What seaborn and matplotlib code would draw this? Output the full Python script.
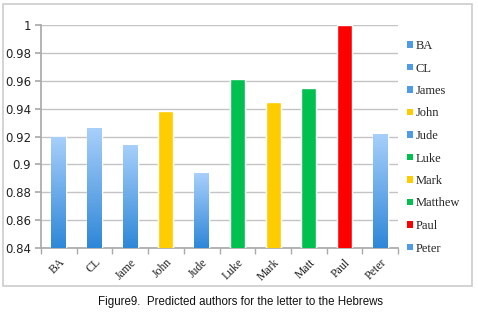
import numpy as np
import pandas as pd
import matplotlib
matplotlib.use("Agg")
import matplotlib.pyplot as plt
import seaborn as sns
from matplotlib.patches import Patch, Rectangle
from matplotlib.colors import LinearSegmentedColormap

# ---- data ----
categories = ["BA", "CL", "Jame", "John", "Jude", "Luke", "Mark", "Matt", "Paul", "Peter"]
values = [0.920, 0.926, 0.914, 0.938, 0.8935, 0.961, 0.945, 0.955, 1.000, 0.922]
groups = ["blue", "blue", "blue", "yellow", "blue", "green", "yellow", "green", "red", "blue"]
legend_labels = ["BA", "CL", "James", "John", "Jude", "Luke", "Mark", "Matthew", "Paul", "Peter"]
yticks = [0.84, 0.86, 0.88, 0.9, 0.92, 0.94, 0.96, 0.98, 1.0]
ytick_labels = ["0.84", "0.86", "0.88", "0.9", "0.92", "0.94", "0.96", "0.98", "1"]
caption = "Figure9.  Predicted authors for the letter to the Hebrews"

solid = {"yellow": "#ffcc00", "green": "#00c050", "red": "#ff0000", "blue": "#6aaaf0"}
legend_sq = {"yellow": "#ffcc00", "green": "#00c050", "red": "#ff0000", "blue": "#4f9be6"}

sns.set_theme(style="white")
plt.rcParams["font.family"] = ["DejaVu Sans"]

fig = plt.figure(figsize=(4.78, 3.12), dpi=100)
ax = fig.add_axes([41/478, 1-248/312, (398-41)/478, (248-25)/312])

df = pd.DataFrame({"cat": categories, "val": values, "grp": groups})
sns.barplot(data=df, x="cat", y="val", hue="cat", palette=[solid[g] for g in groups],
            width=0.42, saturation=1, legend=False, ax=ax, zorder=3)

ax.set_ylim(0.84, 1.0)
ax.set_xlim(-0.5, len(categories)-0.5)

# gradient fill for blue bars
cmap = LinearSegmentedColormap.from_list("g", ["#2e87d8", "#a8d0fb"])
grad = np.linspace(0, 1, 256).reshape(-1, 1)
for patch, g in zip(ax.patches, groups):
    if g == "blue":
        x0, w = patch.get_x(), patch.get_width()
        y1 = patch.get_y() + patch.get_height()
        patch.set_facecolor("none")
        im = ax.imshow(grad, cmap=cmap, origin="lower", aspect="auto",
                       extent=[x0, x0 + w, 0.84, y1], zorder=3)
        im.set_clip_path(patch)
ax.set_xlim(-0.5, len(categories)-0.5)
ax.set_ylim(0.84, 1.0)

ax.set_yticks(yticks)
ax.set_yticklabels(ytick_labels, fontsize=8.5, color="#222222")
ax.grid(axis="y", color="#c4c4c4", linewidth=1.0, zorder=0)
ax.set_axisbelow(True)
for s in ["top", "right"]:
    ax.spines[s].set_visible(False)
ax.spines["left"].set_color("#aaaaaa")
ax.spines["bottom"].set_color("#aaaaaa")
ax.set_xlabel("")
ax.set_ylabel("")

ax.set_xticks(range(len(categories)))
ax.set_xticklabels(categories, rotation=45, ha="right", rotation_mode="anchor",
                   fontsize=8.5, family="Liberation Serif", color="#222222")
ax.tick_params(axis="x", length=0, pad=6)
ax.set_xticks(np.arange(-0.5, len(categories), 1.0), minor=True)
ax.tick_params(axis="x", which="minor", length=4, color="#aaaaaa", direction="out", bottom=True)
ax.tick_params(axis="y", length=4, color="#aaaaaa", direction="out", left=True, pad=3)

handles = [Patch(facecolor=legend_sq[g], edgecolor="none") for g in groups]
fig.legend(handles, legend_labels, loc="upper left", bbox_to_anchor=(402/478, 1-35/312),
           frameon=False, prop={"family": "Liberation Serif", "size": 9},
           handlelength=0.45, handleheight=0.45, handletextpad=0.25, labelspacing=0.84,
           borderaxespad=0)

# outer frame
fig.patches.append(Rectangle((3/478, 1-286/312), (472-3)/478, (286-4)/312,
                             transform=fig.transFigure, fill=False,
                             edgecolor="#cccccc", linewidth=1.2))

fig.text(240/478, 1-302/312, caption, ha="center", va="center", fontsize=8.3,
         family="Liberation Sans", color="#111111")

fig.savefig("out.png", dpi=100)
